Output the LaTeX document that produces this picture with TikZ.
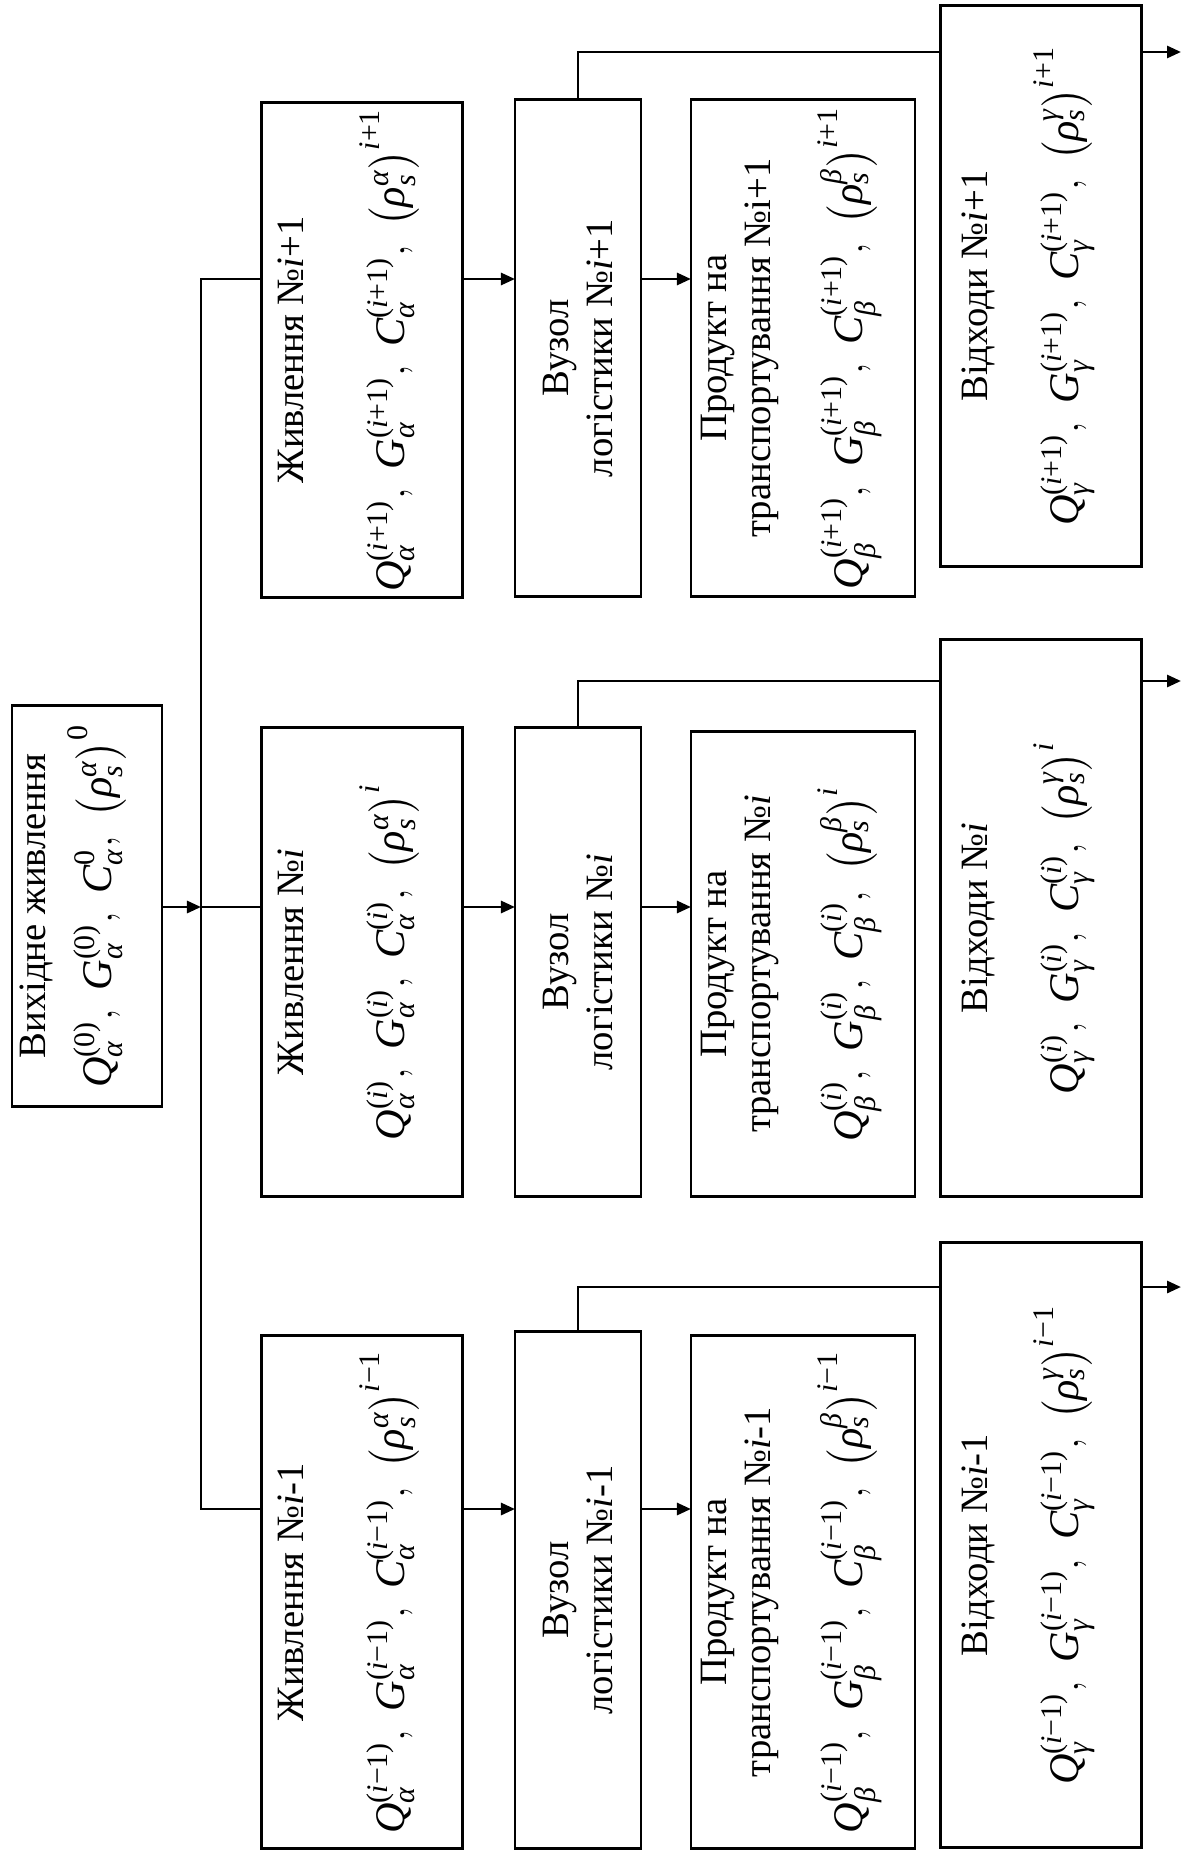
\documentclass[tikz,border=0pt]{standalone}
\usepackage{amsmath}
\usepackage{fontspec}
\setmainfont{Liberation Serif}
\usetikzlibrary{arrows.meta}
\DeclareMathSizes{12}{12}{8.5}{6}
\newcommand{\tv}[1]{\text{\itshape #1}}
% greek letter, index of Q and G, index of C, index of rho
\newcommand{\fml}[4]{{\fontsize{12}{14}\selectfont$\tv{Q}_{\tv{#1}}^{\text{#2}},\; \tv{G}_{\tv{#1}}^{\text{#2}},\; \tv{C}_{\tv{#1}}^{\text{#3}},\; \bigl(\tv{ρ}_{\tv{s}}^{\tv{#1}}\bigr)^{\text{#4}}$}}

\begin{document}
\begin{tikzpicture}[x=0.01cm,y=-0.01cm,line width=0.8pt,
  box/.style={rectangle,draw,rotate=90,inner sep=0pt,outer sep=0pt,align=center,font=\fontsize{11}{12.5}\selectfont},
  databox/.style={box,text depth=12pt},
  arr/.style={-{Triangle[length=1.4mm,width=1.2mm]}}]
\useasboundingbox (0,0) rectangle (1183,1852);
% source
\node (src) [databox,minimum width=4.01cm,minimum height=1.5cm] at (87,906) {Вихідне живлення\\[3pt] \fml{α}{(0)}{0}{0}};
% feed
\node (feedp) [databox,minimum width=4.94cm,minimum height=2.01cm] at (362,350) {Живлення №\textit{i}+1\\[15pt] \fml{α}{(\textit{i}+1)}{(\textit{i}+1)}{\textit{i}+1}};
\node (feedi) [databox,minimum width=4.68cm,minimum height=2.01cm] at (362,962) {Живлення №\textit{i}\\[15pt] \fml{α}{(\textit{i})}{(\textit{i})}{\textit{i}}};
\node (feedm) [databox,minimum width=5.12cm,minimum height=2.01cm] at (362,1592) {Живлення №\textit{i}-1\\[15pt] \fml{α}{(\textit{i}−1)}{(\textit{i}−1)}{\textit{i}−1}};
% logistics hubs
\node (hubp) [box,minimum width=4.97cm,minimum height=1.26cm] at (578,348) {Вузол\\логістики №\textit{i}+1};
\node (hubi) [box,minimum width=4.68cm,minimum height=1.26cm] at (578,962) {Вузол\\логістики №\textit{i}};
\node (hubm) [box,minimum width=5.16cm,minimum height=1.26cm] at (578,1590) {Вузол\\логістики №\textit{i}-1};
% product
\node (prodp) [databox,minimum width=4.97cm,minimum height=2.24cm] at (803,348) {Продукт на\\транспортування №i+1\\[10pt] \fml{β}{(\textit{i}+1)}{(\textit{i}+1)}{\textit{i}+1}};
\node (prodi) [databox,minimum width=4.64cm,minimum height=2.24cm] at (803,964) {Продукт на\\транспортування №\textit{i}\\[10pt] \fml{β}{(\textit{i})}{(\textit{i})}{\textit{i}}};
\node (prodm) [databox,minimum width=5.12cm,minimum height=2.24cm] at (803,1592) {Продукт на\\транспортування №\textit{i}-1\\[10pt] \fml{β}{(\textit{i}−1)}{(\textit{i}−1)}{\textit{i}−1}};
% waste
\node (wastep) [databox,minimum width=5.61cm,minimum height=2.01cm] at (1041,286) {Відходи №\textit{i}+1\\[10pt] \fml{γ}{(\textit{i}+1)}{(\textit{i}+1)}{\textit{i}+1}};
\node (wastei) [databox,minimum width=5.56cm,minimum height=2.01cm] at (1041,918) {Відходи №\textit{i}\\[10pt] \fml{γ}{(\textit{i})}{(\textit{i})}{\textit{i}}};
\node (wastem) [databox,minimum width=6.05cm,minimum height=2.01cm] at (1041,1545) {Відходи №\textit{i}-1\\[10pt] \fml{γ}{(\textit{i}−1)}{(\textit{i}−1)}{\textit{i}−1}};
% bus
\coordinate (jp) at (201,279);
\coordinate (ji) at (201,907);
\coordinate (jm) at (201,1509);
\draw (jp -| feedp.north) -- (jp) -- (jm) -- (jm -| feedm.north);
\draw (ji) -- (ji -| feedi.north);
\draw[arr] (src.south |- ji) -- (ji);
% rows
\draw[arr] (jp -| feedp.south) -- (jp -| hubp.north);
\draw[arr] (jp -| hubp.south) -- (jp -| prodp.north);
\draw[arr] (ji -| feedi.south) -- (ji -| hubi.north);
\draw[arr] (ji -| hubi.south) -- (ji -| prodi.north);
\draw[arr] (jm -| feedm.south) -- (jm -| hubm.north);
\draw[arr] (jm -| hubm.south) -- (jm -| prodm.north);
% waste outlets
\coordinate (kp) at (578,52);
\coordinate (ki) at (578,681);
\coordinate (km) at (578,1287);
\coordinate (op) at (1181,52);
\coordinate (oi) at (1181,681);
\coordinate (om) at (1181,1287);
\draw (hubp.east) -- (kp) -- (kp -| wastep.north);
\draw[arr] (kp -| wastep.south) -- (op);
\draw (hubi.east) -- (ki) -- (ki -| wastei.north);
\draw[arr] (ki -| wastei.south) -- (oi);
\draw (hubm.east) -- (km) -- (km -| wastem.north);
\draw[arr] (km -| wastem.south) -- (om);
\end{tikzpicture}
\end{document}
